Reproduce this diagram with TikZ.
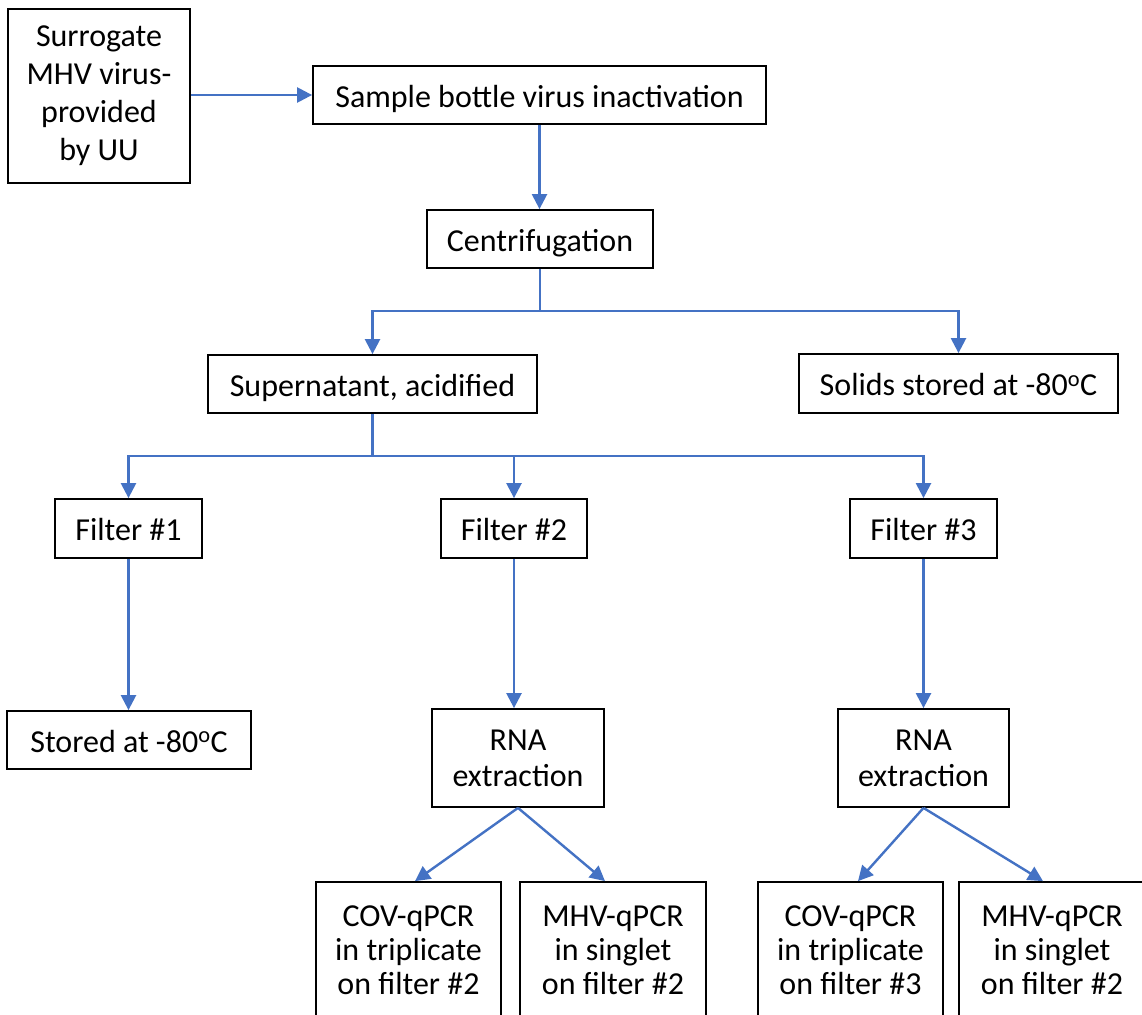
\documentclass[tikz,border=0pt]{standalone}
\usepackage{fontspec}
\setmainfont{Carlito}
\usetikzlibrary{arrows.meta,calc}
\definecolor{arrblue}{HTML}{4472C4}
\begin{document}
\begin{tikzpicture}[x=1pt,y=-1pt,
  box/.style={draw=black,line width=1.8pt,fill=white,inner sep=0pt,align=center,
    font=\fontsize{32}{36}\selectfont},
  one/.style={box,text height=27pt,text depth=3pt},
  arr/.style={draw=arrblue,line width=2.4pt,-{Triangle[length=15pt,width=15pt]}},
  ln/.style={draw=arrblue,line width=2.4pt}]
\clip (0,0) rectangle (1142,1014);
\fill[white] (0,0) rectangle (1142,1014);
\node[box,minimum width=182pt,minimum height=174pt,font=\fontsize{32}{38}\selectfont] (surr) at (99,96) {Surrogate\\MHV virus-\\provided\\by UU};
\node[one,minimum width=453pt,minimum height=58pt] (sample) at (539.5,95) {Sample bottle virus inactivation};
\node[one,minimum width=226pt,minimum height=58pt] (centr) at (540,239) {Centrifugation};
\node[one,minimum width=329pt,minimum height=58pt] (super) at (372.5,384) {Supernatant, acidified};
\node[one,minimum width=319pt,minimum height=59pt] (solids) at (958.5,383.5) {Solids stored at -80\textsuperscript{o}C};
\node[one,minimum width=147pt,minimum height=59pt] (f1) at (128.5,528.5) {Filter \#1};
\node[one,minimum width=146pt,minimum height=59pt] (f2) at (514,528.5) {Filter \#2};
\node[one,minimum width=147pt,minimum height=59pt] (f3) at (923.5,528.5) {Filter \#3};
\node[one,minimum width=244pt,minimum height=58pt] (stored) at (129,740) {Stored at -80\textsuperscript{o}C};
\node[box,minimum width=172pt,minimum height=98pt] (rna2) at (518,758) {RNA\\extraction};
\node[box,minimum width=171pt,minimum height=98pt] (rna3) at (923.5,758) {RNA\\extraction};
\node[box,minimum width=185pt,minimum height=136pt,font=\fontsize{32}{34}\selectfont] (cov2) at (408.5,950) {COV-qPCR\\in triplicate\\on filter \#2};
\node[box,minimum width=186pt,minimum height=136pt,font=\fontsize{32}{34}\selectfont] (mhv2) at (613,950) {MHV-qPCR\\in singlet\\on filter \#2};
\node[box,minimum width=185pt,minimum height=136pt,font=\fontsize{32}{34}\selectfont] (cov3) at (850.5,950) {COV-qPCR\\in triplicate\\on filter \#3};
\node[box,minimum width=186pt,minimum height=136pt,font=\fontsize{32}{34}\selectfont] (mhv3) at (1052,950) {MHV-qPCR\\in singlet\\on filter \#2};
\coordinate (j1) at (540,311);
\coordinate (j2) at (372.5,456);
\draw[arr] (surr.east |- sample.west) -- (sample.west);
\draw[arr] (sample.south) -- (sample.south |- centr.north);
\draw[ln] (centr.south) -- (j1);
\draw[arr] (j1) -| (super.north);
\draw[arr] (j1) -| (solids.north);
\draw[ln] (super.south) -- (j2);
\draw[arr] (j2) -| (f1.north);
\draw[arr] (j2) -| (f2.north);
\draw[arr] (j2) -| (f3.north);
\draw[arr] (f1.south) -- (f1.south |- stored.north);
\draw[arr] (f2.south) -- (f2.south |- rna2.north);
\draw[arr] (f3.south) -- (f3.south |- rna3.north);
\draw[arr] (rna2.south) -- ($(cov2.north)+(6.5,0)$);
\draw[arr] (rna2.south) -- ($(mhv2.north)+(-8,0)$);
\draw[arr] (rna3.south) -- ($(cov3.north)+(7.5,0)$);
\draw[arr] (rna3.south) -- ($(mhv3.north)+(-9,0)$);
\end{tikzpicture}
\end{document}
